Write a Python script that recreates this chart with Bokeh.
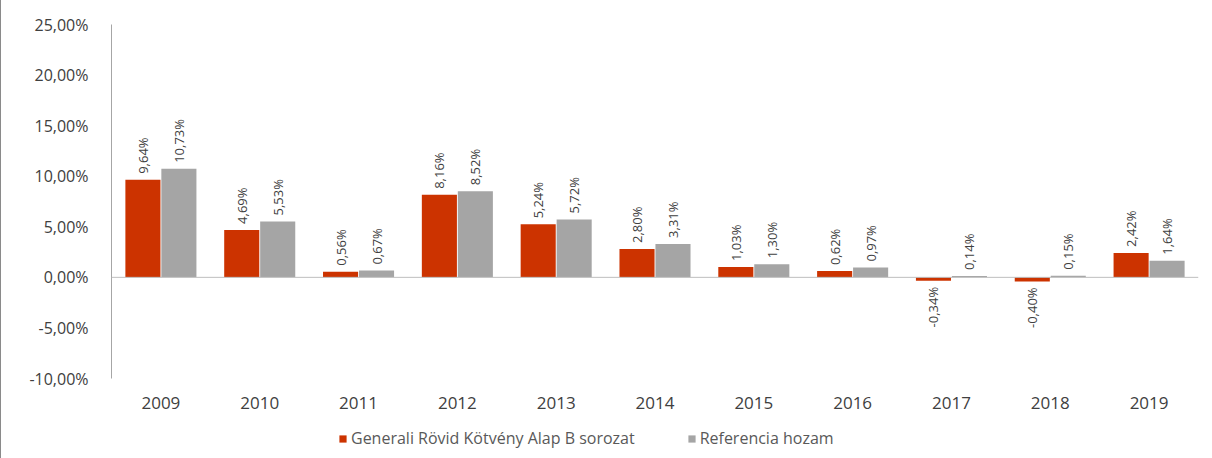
import math
from bokeh.plotting import figure
from bokeh.layouts import column
from bokeh.models import (FactorRange, ColumnDataSource, FixedTicker, CustomJSTickFormatter,
                          Span, Legend, LegendItem, Range1d)
from bokeh.transform import dodge
from bokeh.core.properties import value
from bokeh.embed import file_html
from bokeh.resources import INLINE

years = ["2009", "2010", "2011", "2012", "2013", "2014", "2015", "2016", "2017", "2018", "2019"]
fund = [9.64, 4.69, 0.56, 8.16, 5.24, 2.80, 1.03, 0.62, -0.34, -0.40, 2.42]
reference = [10.73, 5.53, 0.67, 8.52, 5.72, 3.31, 1.30, 0.97, 0.14, 0.15, 1.64]
y_ticks = [-10, -5, 0, 5, 10, 15, 20, 25]
series_names = ["Generali Rövid Kötvény Alap B sorozat", "Referencia hozam"]

RED = "#cc3300"
GRAY = "#a5a5a5"
TXT = "#404040"
FONT = "Open Sans"


def fmt(v):
    return f"{v:.2f}".replace(".", ",") + "%"


src = ColumnDataSource(dict(year=years, fund=fund, ref=reference))

p = figure(x_range=FactorRange(*years), y_range=(-10, 25), width=1204, height=420,
           output_backend="svg", toolbar_location=None,
           min_border_left=110, min_border_right=7, min_border_top=24, min_border_bottom=42)
p.styles = {"border-left": "1px solid #8a8a8a"}

p.xgrid.visible = False
p.ygrid.visible = False
p.outline_line_color = None

r1 = p.vbar(x=dodge("year", -0.182, range=p.x_range), top="fund", width=0.355, source=src,
            fill_color=RED, line_color=None)
r2 = p.vbar(x=dodge("year", 0.182, range=p.x_range), top="ref", width=0.355, source=src,
            fill_color=GRAY, line_color=None)

p.add_layout(Span(location=0, dimension="width", line_color="#bfbfbf", line_width=1))

# data labels
for vals, off in ((fund, -0.182), (reference, 0.182)):
    pos = [(y, v, fmt(v)) for y, v in zip(years, vals) if v >= 0]
    neg = [(y, v, fmt(v)) for y, v in zip(years, vals) if v < 0]
    if pos:
        s = ColumnDataSource(dict(year=[a for a, _, _ in pos], v=[b for _, b, _ in pos],
                                  t=[c for _, _, c in pos]))
        p.text(x=dodge("year", off, range=p.x_range), y="v", text="t", source=s,
               angle=math.pi / 2, text_align="left", text_baseline="middle",
               y_offset=-6, text_font=value(FONT), text_font_size="13px", text_color=TXT)
    if neg:
        s = ColumnDataSource(dict(year=[a for a, _, _ in neg], v=[b for _, b, _ in neg],
                                  t=[c for _, _, c in neg]))
        p.text(x=dodge("year", off, range=p.x_range), y="v", text="t", source=s,
               angle=math.pi / 2, text_align="right", text_baseline="middle",
               y_offset=6, text_font=value(FONT), text_font_size="13px", text_color=TXT)

# y axis
p.yaxis.ticker = FixedTicker(ticks=y_ticks)
p.yaxis.formatter = CustomJSTickFormatter(code="return tick.toFixed(2).replace('.', ',') + '%';")
p.yaxis.axis_line_color = "#a6a6a6"
p.yaxis.major_tick_line_color = None
p.yaxis.minor_tick_line_color = None
p.yaxis.major_label_standoff = 17
p.yaxis.major_label_text_font = FONT
p.yaxis.major_label_text_font_size = "16px"
p.yaxis.major_label_text_color = TXT

# x axis
p.xaxis.axis_line_color = None
p.xaxis.major_tick_line_color = None
p.xaxis.minor_tick_line_color = None
p.xaxis.major_label_standoff = 12
p.xaxis.major_label_text_font = FONT
p.xaxis.major_label_text_font_size = "17px"
p.xaxis.major_label_text_color = TXT

# legend strip (separate small figure below the chart; its bars fall outside its y range)
lg = figure(width=1204, height=38, output_backend="svg", toolbar_location=None,
            x_range=FactorRange(*years), y_range=Range1d(100, 101),
            x_axis_location=None, y_axis_location=None,
            min_border_left=0, min_border_right=0, min_border_top=0, min_border_bottom=0)
lg.styles = {"border-left": "1px solid #8a8a8a"}
lg.grid.visible = False
lg.outline_line_color = None
l1 = lg.vbar(x=dodge("year", -0.182, range=lg.x_range), top="fund", width=0.355, source=src,
             fill_color=RED, line_color=None)
l2 = lg.vbar(x=dodge("year", 0.182, range=lg.x_range), top="ref", width=0.355, source=src,
             fill_color=GRAY, line_color=None)

legend = Legend(items=[LegendItem(label=series_names[0], renderers=[l1]),
                       LegendItem(label=series_names[1], renderers=[l2])],
                orientation="horizontal", location=(227, 9))
legend.padding = 0
legend.margin = 0
legend.spacing = 52
legend.glyph_width = 9
legend.glyph_height = 9
legend.label_standoff = 4
legend.border_line_color = None
legend.background_fill_alpha = 0
legend.label_text_font = FONT
legend.label_text_font_size = "16px"
legend.label_text_color = "#595959"
lg.add_layout(legend)

open("out.html", "w").write(file_html(column(p, lg), INLINE))
